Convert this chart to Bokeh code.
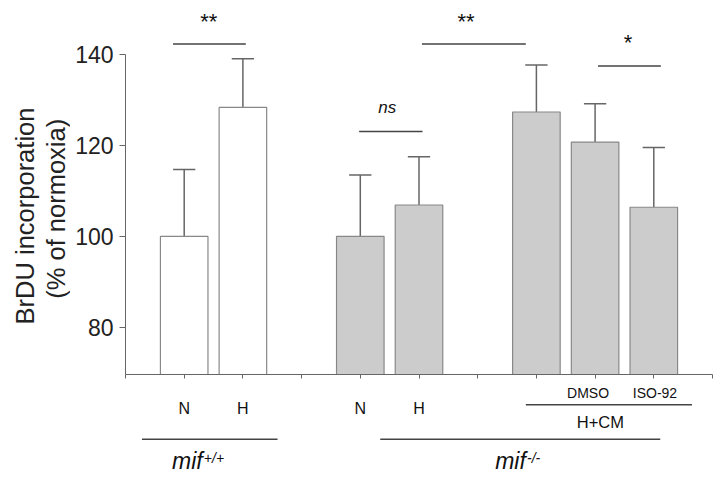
from math import pi
from bokeh.plotting import figure
from bokeh.layouts import column, row
from bokeh.models import Label, Range1d, FixedTicker, ColumnDataSource
from bokeh.embed import file_html
from bokeh.resources import INLINE

# ---- data ----
groups = ["N", "H", "N", "H", "H+CM", "DMSO", "ISO-92"]
positions = [1, 2, 4, 5, 7, 8, 9]
means = [100.0, 128.3, 100.0, 106.9, 127.3, 120.7, 106.4]
errors = [14.7, 10.7, 13.5, 10.6, 10.3, 8.4, 13.1]
fills = ["white", "white", "#cccccc", "#cccccc", "#cccccc", "#cccccc", "#cccccc"]
y_ticks = [80, 100, 120, 140]
x_ticks = list(range(0, 11))

# significance brackets
sig_x0 = [0.81, 3.98, 5.05, 8.05]
sig_x1 = [2.05, 5.06, 6.82, 9.12]
sig_y = [142.2, 123.0, 142.2, 137.4]
sig_text = ["**", "ns", "**", "*"]
sig_tx = [1.42, 4.46, 5.80, 8.56]
sig_ty = [147.1, 128.3, 147.1, 142.6]

# labels under the axis (lower panel, y in px below its top)
cat_lbl = ["N", "H", "N", "H"]
cat_x = [1, 2, 4, 5]
treat_lbl = ["DMSO", "ISO-92"]
treat_x = [7.88, 9.02]
geno_lbl = ["+/+", "-/-"]
geno_x = [1.315, 6.82]
line_x0 = [6.82, 0.28, 4.34]
line_x1 = [9.65, 2.59, 9.11]
line_y = [-20.3, -54.7, -54.7]

# y axis title lines
ylab_lines = ["BrDU incorporation", "(% of normoxia)"]
ylab_x = [24, 55]
ylab_y = [-215.5, -208.3]

Y0 = 69.7
FONT = "Liberation Sans"
LW = 70          # width of the y-title strip
W = 717 - LW
H_TOP = 384
H_BOT = 90

# ---- y-title strip ----
t = figure(width=LW, height=H_TOP + H_BOT, output_backend="svg", toolbar_location=None,
           x_range=Range1d(0, LW), y_range=Range1d(-(H_TOP + H_BOT), 0),
           x_axis_type=None, y_axis_type=None,
           min_border_left=0, min_border_right=0, min_border_top=0, min_border_bottom=0)
t.outline_line_color = None
t.xgrid.visible = False
t.ygrid.visible = False
for txt, x, y in zip(ylab_lines, ylab_x, ylab_y):
    t.add_layout(Label(x=x, y=y, text=txt, angle=pi / 2, text_align="center",
                       text_baseline="middle", text_font=FONT, text_font_size="25.5px",
                       text_color="#222222"))

# ---- main plot ----
xr = Range1d(0, 10)
p = figure(width=W, height=H_TOP, output_backend="svg", toolbar_location=None,
           x_range=xr, y_range=Range1d(Y0, 151.77),
           min_border_left=125 - LW, min_border_right=5, min_border_top=0,
           min_border_bottom=10)
p.outline_line_color = None
p.xgrid.visible = False
p.ygrid.visible = False

ax = p.yaxis[0]
ax.ticker = FixedTicker(ticks=y_ticks)
ax.bounds = (Y0, 140)
ax.minor_tick_line_color = None
ax.major_tick_out = 6
ax.major_tick_in = 0
ax.axis_line_color = "#666666"
ax.major_tick_line_color = "#666666"
ax.major_label_text_font = FONT
ax.major_label_text_font_size = "23px"
ax.major_label_text_color = "#222222"
ax.major_label_standoff = 6

bx = p.xaxis[0]
bx.ticker = FixedTicker(ticks=x_ticks)
bx.minor_tick_line_color = None
bx.major_tick_out = 4
bx.major_tick_in = 0
bx.axis_line_color = "#666666"
bx.major_tick_line_color = "#666666"
bx.major_label_text_color = None
bx.major_label_text_font_size = "1px"
bx.major_label_standoff = 0

ups = [m + e for m, e in zip(means, errors)]
src = ColumnDataSource(dict(x=positions, top=means, fill=fills, up=ups))
p.segment(x0="x", y0="top", x1="x", y1="up", source=src, line_color="#666666", line_width=1.5)
caps = ColumnDataSource(dict(x0=[x - 0.19 for x in positions], x1=[x + 0.19 for x in positions], y=ups))
p.segment(x0="x0", y0="y", x1="x1", y1="y", source=caps, line_color="#666666", line_width=1.5)
p.vbar(x="x", top="top", bottom=Y0, width=0.81, source=src, fill_color="fill",
       line_color="#888888", line_width=1.2)

p.segment(x0=sig_x0, y0=sig_y, x1=sig_x1, y1=sig_y, line_color="#444444", line_width=1.5)
for txt, tx, ty in zip(sig_text, sig_tx, sig_ty):
    italic = txt == "ns"
    p.add_layout(Label(x=tx, y=ty, text=txt, text_align="center", text_baseline="middle",
                       text_font=FONT, text_font_size="17px" if italic else "22px",
                       text_font_style="italic" if italic else "normal",
                       text_color="#111111"))

# ---- lower panel with group labels ----
q = figure(width=W, height=H_BOT, output_backend="svg", toolbar_location=None,
           x_range=xr, y_range=Range1d(-H_BOT, 0), x_axis_type=None, y_axis_type=None,
           min_border_left=125 - LW, min_border_right=5, min_border_top=0, min_border_bottom=0)
q.outline_line_color = None
q.xgrid.visible = False
q.ygrid.visible = False

for txt, x in zip(cat_lbl, cat_x):
    q.add_layout(Label(x=x, y=-23.7, text=txt, text_align="center", text_baseline="middle",
                       text_font=FONT, text_font_size="16px", text_color="#111111"))
for txt, x in zip(treat_lbl, treat_x):
    q.add_layout(Label(x=x, y=-8.3, text=txt, text_align="center", text_baseline="middle",
                       text_font=FONT, text_font_size="14px", text_color="#111111"))
q.add_layout(Label(x=8.09, y=-37.0, text="H+CM", text_align="center", text_baseline="middle",
                   text_font=FONT, text_font_size="16.5px", text_color="#111111"))
q.segment(x0=line_x0, y0=line_y, x1=line_x1, y1=line_y, line_color="#444444", line_width=1.5)
for x, sup in zip(geno_x, geno_lbl):
    q.add_layout(Label(x=x, y=-76.3, text="mif", text_align="right", text_baseline="middle",
                       text_font=FONT, text_font_size="23px", text_font_style="italic",
                       text_color="#111111"))
    q.add_layout(Label(x=x + 0.02, y=-73.0, text=sup, text_align="left", text_baseline="middle",
                       text_font=FONT, text_font_size="14px", text_font_style="italic",
                       text_color="#111111"))

layout = row(t, column(p, q, spacing=0), spacing=0)
open("out.html", "w").write(file_html(layout, INLINE))
